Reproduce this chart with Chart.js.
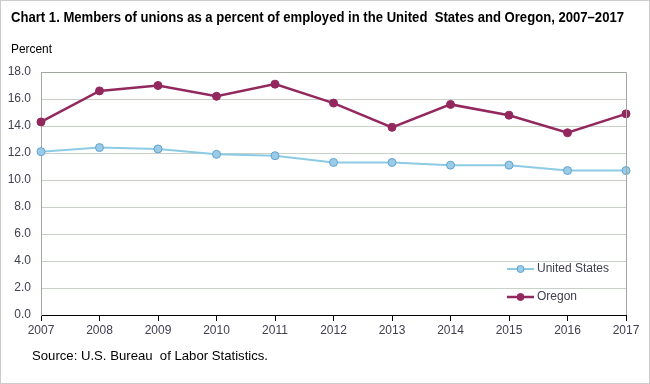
<!DOCTYPE html>
<html><head><meta charset="utf-8">
<script src="https://cdn.jsdelivr.net/npm/chart.js@4/dist/chart.umd.min.js"></script>
<style>
html,body{margin:0;padding:0;background:#fff;}
#wrap{position:relative;width:650px;height:384px;}
</style></head>
<body><div id="wrap"><canvas id="c" width="650" height="384"></canvas></div>
<script>
const years = ['2007','2008','2009','2010','2011','2012','2013','2014','2015','2016','2017'];
const unitedStates = [12.1, 12.4, 12.3, 11.9, 11.8, 11.3, 11.3, 11.1, 11.1, 10.7, 10.7];
const oregon = [14.3, 16.6, 17.0, 16.2, 17.1, 15.7, 13.9, 15.6, 14.8, 13.5, 14.9];
const yTicks = [0, 2, 4, 6, 8, 10, 12, 14, 16, 18];
const titleText = 'Chart 1. Members of unions as a percent of employed in the United  States and Oregon, 2007\u20132017';
const yTitle = 'Percent';
const sourceText = 'Source: U.S. Bureau  of Labor Statistics.';

const FONT = "'Liberation Sans', Arial, sans-serif";

function fitText(ctx, text, x, y, width) {
  const w = ctx.measureText(text).width;
  ctx.save();
  ctx.translate(x, y);
  ctx.scale(width / w, 1);
  ctx.fillText(text, 0, 0);
  ctx.restore();
}

const decor = {
  id: 'decor',
  beforeDraw(chart) {
    const ctx = chart.ctx;
    ctx.save();
    ctx.fillStyle = '#fff';
    ctx.fillRect(0, 0, chart.width, chart.height);
    ctx.strokeStyle = '#cccccc';
    ctx.lineWidth = 1;
    ctx.strokeRect(0.5, 0.5, chart.width - 1, chart.height - 1);
    ctx.restore();
  },
  afterDraw(chart) {
    const ctx = chart.ctx;
    const a = chart.chartArea;
    ctx.save();
    ctx.strokeStyle = '#a0a8a0';
    ctx.lineWidth = 1;
    ctx.beginPath();
    ctx.moveTo(Math.round(a.left) + 0.5, Math.round(a.top) + 0.5);
    ctx.lineTo(Math.round(a.right) + 0.5, Math.round(a.top) + 0.5);
    ctx.lineTo(Math.round(a.right) + 0.5, Math.round(a.bottom));
    ctx.stroke();
    ctx.fillStyle = '#000';
    ctx.textBaseline = 'middle';
    ctx.textAlign = 'left';
    ctx.font = "bold 14px " + FONT;
    fitText(ctx, titleText, 11, 18, 613);
    ctx.font = "13px " + FONT;
    fitText(ctx, yTitle, 11, 49, 41);
    fitText(ctx, sourceText, 32, 356, 236);
    const ys = [269, 297];
    chart.data.datasets.forEach((d, i) => {
      const y = ys[i];
      ctx.strokeStyle = d.borderColor;
      ctx.lineWidth = d.borderWidth;
      ctx.beginPath();
      ctx.moveTo(507, y); ctx.lineTo(534, y); ctx.stroke();
      ctx.beginPath();
      ctx.arc(520.5, y, 3.5, 0, Math.PI * 2);
      ctx.fillStyle = d.pointBackgroundColor;
      ctx.fill();
      ctx.strokeStyle = d.pointBorderColor;
      ctx.lineWidth = 1;
      ctx.stroke();
      ctx.fillStyle = '#404050';
      ctx.font = "12px " + FONT;
      ctx.textAlign = 'left';
      ctx.fillText(d.label, 537, y);
    });
    ctx.restore();
  }
};

new Chart(document.getElementById('c'), {
  type: 'line',
  data: {
    labels: years,
    datasets: [
      {
        label: 'United States',
        data: unitedStates,
        borderColor: '#8ccbe3',
        backgroundColor: '#8ccbe3',
        borderWidth: 2,
        pointRadius: 4,
        pointBackgroundColor: '#9ccbe6',
        pointBorderColor: '#5fa4d4',
        pointBorderWidth: 1,
        tension: 0
      },
      {
        label: 'Oregon',
        data: oregon,
        borderColor: '#93285f',
        backgroundColor: '#93285f',
        borderWidth: 2.5,
        pointRadius: 4,
        pointBackgroundColor: '#93285f',
        pointBorderColor: '#93285f',
        pointBorderWidth: 1,
        tension: 0
      }
    ]
  },
  options: {
    responsive: false,
    animation: false,
    devicePixelRatio: 1,
    layout: { padding: { top: 72, right: 24, left: 0, bottom: 0 } },
    plugins: { legend: { display: false }, tooltip: { enabled: false }, title: { display: false } },
    scales: {
      x: {
        offset: false,
        grid: { drawOnChartArea: false, drawTicks: true, tickLength: 6, tickColor: '#000', color: '#000' },
        border: { color: '#000', width: 1 },
        ticks: { color: '#404050', font: { family: FONT, size: 12 }, padding: 2, maxRotation: 0, autoSkip: false },
        afterFit(s) { s.height = 69; }
      },
      y: {
        min: 0, max: 18,
        afterBuildTicks(s) { s.ticks = yTicks.map(v => ({value: v})); },
        grid: { color: '#c8d0c8', drawTicks: false },
        border: { color: '#a0a8a0', width: 1 },
        ticks: { color: '#404050', font: { family: FONT, size: 12 }, padding: 10, callback: v => Number(v).toFixed(1) },
        afterFit(s) { s.width = 41; }
      }
    }
  },
  plugins: [decor]
});
</script>
</body></html>
